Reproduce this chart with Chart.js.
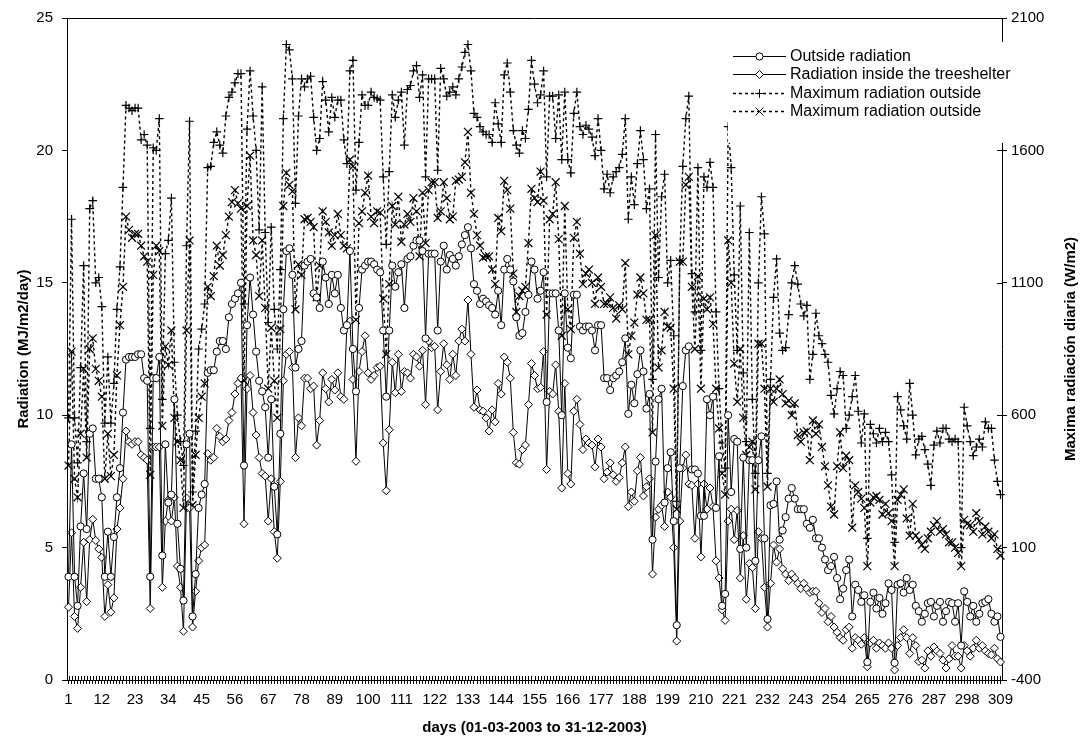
<!DOCTYPE html>
<html><head><meta charset="utf-8">
<script src="https://cdn.jsdelivr.net/npm/chart.js@4.4.0/dist/chart.umd.min.js"></script>
<style>html,body{margin:0;padding:0;background:#fff}#wrap{width:1082px;height:740px;position:relative}</style>
</head><body><div id="wrap"><canvas id="c" width="1082" height="740" style="width:1082px;height:740px"></canvas></div>
<script>
// Outside radiation (MJ/m2/day), left axis
const outsideRadiation = [
3.9,8.9,3.9,2.8,5.8,7.8,5.7,9.3,9.5,7.6,
7.6,6.9,3.9,5.6,3.9,5.4,6.9,8.0,10.1,12.1,
12.2,12.2,12.2,12.3,12.3,11.4,11.3,3.9,11.4,11.4,
12.2,4.7,8.9,6.7,7.0,10.6,5.9,4.2,3.0,8.9,
9.3,2.4,4.0,6.5,7.0,7.4,11.6,11.7,11.7,12.4,
12.8,12.8,12.5,13.7,14.2,14.4,14.6,15.0,8.1,13.4,
15.2,13.8,12.4,11.3,10.9,10.3,8.4,10.6,7.3,
5.5,9.3,14.0,16.2,16.3,15.3,11.8,12.5,12.8,15.65,
15.8,15.9,14.6,14.45,14.05,15.8,15.2,14.2,15.3,14.6,
15.3,14.05,13.2,13.4,16.2,12.5,10.9,14.05,15.5,15.65,
15.8,15.8,15.7,15.5,15.4,13.2,10.7,13.2,15.65,14.85,
15.4,15.7,14.05,15.9,16.0,16.4,16.6,16.6,16.2,12.9,
16.1,16.1,16.1,13.2,15.8,16.4,15.5,16.05,15.9,15.65,
16.0,16.45,16.8,17.1,16.3,14.95,14.7,14.2,14.4,14.3,
14.15,14.05,13.8,14.7,13.4,15.5,15.9,15.5,15.05,13.7,
13.0,13.1,13.9,14.55,15.8,15.5,14.4,14.7,15.4,
10.5,14.6,14.6,14.6,13.2,10.0,14.6,12.55,12.15,14.55,
14.55,13.35,13.2,13.35,13.35,13.2,12.45,13.4,13.4,11.4,
11.4,10.95,11.4,11.5,11.65,12.0,12.9,10.05,11.15,10.45,
11.55,12.45,11.65,10.25,10.8,5.3,8.25,10.6,11.0,6.7,
8.0,8.6,6.0,2.07,8.0,11.1,12.45,12.6,7.95,7.95,
7.8,6.2,6.2,10.6,10.0,10.7,6.5,8.45,2.8,3.25,
10.0,7.1,9.1,9.0,4.95,8.4,5.0,8.3,8.3,4.5,
8.3,9.2,5.35,2.3,6.6,6.65,7.5,5.3,5.65,6.15,
6.85,7.25,6.85,6.45,6.45,6.45,5.9,5.75,6.05,
5.35,5.35,5.0,4.55,4.15,4.3,4.65,3.85,3.05,3.45,
4.15,4.55,2.4,3.6,3.4,2.95,3.2,0.68,2.95,3.3,
2.7,3.1,2.5,2.9,3.65,3.4,0.65,3.6,3.65,3.3,
3.85,3.4,3.6,2.8,2.6,2.2,2.5,2.9,2.95,2.4,
2.8,2.95,2.2,2.6,2.95,2.9,2.2,2.9,1.3,3.35,
2.95,2.4,2.8,2.2,2.5,2.9,2.95,3.05,2.5,2.2,2.4,1.63
];
// Radiation inside the treeshelter (MJ/m2/day), left axis
const insideRadiation = [
2.75,5.56,2.4,1.95,3.5,5.2,2.96,5.3,6.07,5.27,
4.95,4.63,2.4,3.6,2.56,3.1,5.7,6.5,7.6,9.4,
9.0,8.9,9.0,9.0,8.5,8.4,8.3,2.7,8.8,8.8,
8.8,3.5,6.0,6.8,6.0,6.9,4.3,3.5,1.84,6.87,
6.5,2.0,3.35,4.5,5.0,5.1,8.55,8.3,8.4,9.5,
9.2,9.0,9.1,9.8,10.1,10.8,11.2,11.4,5.9,11.0,
11.5,10.1,9.25,8.4,7.8,7.7,6.0,7.6,5.6,
4.6,7.5,11.3,12.3,12.4,11.8,8.4,9.9,9.6,11.4,
11.4,11.0,11.1,8.87,9.8,11.6,11.0,10.5,11.35,10.95,
11.6,10.7,10.6,13.4,13.55,11.35,8.26,11.65,12.4,13.0,
11.6,11.35,11.5,11.8,11.85,8.95,7.15,9.45,12.0,10.85,
12.3,10.9,11.65,11.6,11.4,12.3,12.2,11.85,12.45,10.4,
12.8,12.55,12.6,10.2,11.65,12.7,11.9,11.35,12.3,11.5,
12.8,13.25,12.8,14.35,12.3,10.3,10.95,10.2,10.15,9.9,
9.4,10.2,9.75,11.2,10.8,12.2,12.0,11.4,9.35,8.2,
8.15,8.7,8.87,10.4,11.95,11.5,11.0,11.05,12.4,
7.95,10.9,10.8,11.9,10.15,7.25,11.2,7.8,7.4,10.15,
10.6,9.65,8.7,9.1,8.95,8.87,8.05,9.1,8.8,7.6,
7.85,8.2,7.75,7.5,7.65,8.2,8.8,6.55,7.1,6.75,
7.9,8.4,6.95,7.3,7.6,4.0,6.15,6.45,6.6,5.8,
7.1,6.9,5.0,1.47,6.0,8.0,8.5,7.4,7.35,5.35,
7.4,4.65,7.4,6.45,7.25,6.55,4.5,3.85,2.65,2.25,
6.0,6.45,5.3,6.4,3.85,5.45,3.05,4.4,4.25,2.7,
5.6,5.35,3.5,2.0,3.65,5.1,4.45,4.95,4.2,4.0,
3.75,4.0,3.85,3.65,3.45,3.65,3.45,3.3,3.35,
3.35,2.9,2.55,2.7,2.2,2.4,2.0,1.8,1.6,1.5,
1.9,2.0,1.2,1.6,1.5,1.35,1.6,0.5,1.4,1.5,
1.2,1.4,1.3,1.2,1.4,1.2,0.38,1.3,1.6,1.9,
1.6,1.0,1.6,1.3,0.7,0.75,0.45,1.1,0.9,1.25,
1.1,1.0,0.75,0.45,0.8,1.3,0.9,0.9,0.45,1.3,
1.1,0.9,1.2,1.5,1.2,1.3,1.1,1.0,0.95,1.2,0.8,0.68
];
// Maximum radiation outside, "+" series (W/m2), right axis
const maxRadiationPlus = [
590,1340,590,420,780,1165,500,1380,1410,1100,
1120,1010,570,820,570,720,1000,1160,1460,1770,
1760,1750,1760,1760,1640,1660,1620,550,1610,1600,
1720,660,1210,1260,1420,800,600,500,410,1240,
1710,310,540,850,925,1020,1535,1540,1630,1670,
1620,1590,1730,1800,1820,1855,1890,1890,1020,1680,
1900,1730,1600,1300,1840,1290,950,1310,1000,
850,1150,1720,2000,1980,1870,1400,1730,1870,1840,
1870,1880,1725,1600,1645,1860,1790,1670,1800,1725,
1790,1790,1640,1550,1900,1940,1450,1630,1810,1770,
1770,1820,1800,1795,1790,1500,1245,1520,1810,1725,
1790,1820,1620,1830,1845,1900,1920,1800,1885,1500,
1870,1870,1870,1525,1910,1870,1805,1820,1840,1810,
1870,1915,1970,2000,1900,1740,1725,1690,1670,1660,
1660,1630,1780,1700,1630,1885,1930,1820,1675,1620,
1590,1675,1645,1755,1940,1850,1780,1810,1900,
1500,1805,1805,1645,1810,1565,1820,1565,1515,1740,
1820,1690,1660,1695,1680,1650,1580,1720,1600,1455,
1510,1440,1500,1520,1535,1585,1720,1340,1500,1395,
1550,1675,1565,1380,1455,735,1660,1120,1425,1510,
1100,1185,900,275,1185,1540,1720,1805,1135,990,
1535,845,1500,1460,1555,1460,990,700,495,400,
1690,1535,1130,845,1390,760,500,1290,660,380,
1100,1425,1285,380,735,1045,1190,910,845,855,
980,1100,1165,1095,1020,975,1015,735,830,
985,900,870,830,800,675,605,700,765,750,
550,600,670,750,615,495,605,135,565,530,
495,550,500,535,500,375,120,670,620,560,
510,720,600,450,510,520,470,415,335,487,
540,495,550,550,510,500,510,500,100,630,
560,500,447,480,510,480,575,550,550,430,350,300
];
// Maximum radiation outside, "x" series (W/m2), right axis
const maxRadiationCross = [
410,840,360,290,530,775,440,850,890,775,
730,670,360,530,370,450,750,940,1085,1350,
1300,1270,1285,1285,1240,1200,1180,375,1130,1240,
1220,560,860,790,920,590,500,430,250,920,
1260,260,450,590,670,720,1085,1050,1125,1240,
1165,1205,1280,1350,1405,1450,1400,1380,730,1390,
1580,1260,1205,1050,1260,1005,700,930,730,
590,925,1390,1515,1470,1445,1000,1170,1130,1340,
1345,1330,1310,1045,1165,1370,1330,1290,1240,1280,
1360,1280,1240,1230,1565,1540,960,1325,1370,1440,
1505,1350,1325,1370,1365,1040,830,1095,1390,1320,
1425,1255,1320,1360,1330,1420,1370,1200,1440,1250,
1450,1480,1480,1345,1370,1480,1420,1340,1350,1485,
1490,1500,1555,1670,1440,1360,1280,1240,1195,1200,
1200,1150,1095,1345,1295,1485,1450,1380,1135,990,
1050,1070,1085,1250,1455,1420,1405,1520,1410,
980,1340,1360,1480,1265,900,1390,1000,925,1270,
1330,1210,1095,1135,1150,1100,1020,1120,1085,1020,
1020,1045,1005,965,1015,1000,1175,830,900,950,
1055,1120,1060,960,960,535,1280,780,845,990,
935,930,700,245,1180,1180,1470,1500,1085,850,
1125,700,1040,1000,1045,945,700,550,380,300,
1260,1100,795,650,850,590,450,480,500,320,
870,870,700,330,700,650,700,735,680,645,
655,600,645,525,500,535,540,430,580,
530,565,480,407,335,255,225,407,535,400,
447,430,175,335,310,285,250,30,270,290,
295,280,225,265,230,200,30,280,300,320,
210,145,265,145,130,110,95,135,160,185,
200,160,170,150,120,120,100,80,30,205,
190,185,160,230,200,150,180,160,135,150,95,70
];
// Category labels: day numbers; a label is shown every 11 days
const dayLabels = outsideRadiation.map((_, i) => String(i + 1));
const labelStep = 11;
const leftTicks = [0, 5, 10, 15, 20, 25];
const rightTicks = [-400, 100, 600, 1100, 1600, 2100];
const seriesNames = ['Outside radiation', 'Radiation inside the treeshelter', 'Maximum radiation outside', 'Maximum radiation outside'];

const FONT = "'Liberation Sans', Arial, Helvetica, sans-serif";

function drawMarker(ctx, style, r, x, y) {
  ctx.beginPath();
  if (style === 'circle') {
    ctx.arc(x, y, r, 0, Math.PI * 2);
    ctx.fill(); ctx.stroke();
  } else if (style === 'rectRot') {
    ctx.moveTo(x, y - r); ctx.lineTo(x + r, y); ctx.lineTo(x, y + r); ctx.lineTo(x - r, y); ctx.closePath();
    ctx.fill(); ctx.stroke();
  } else if (style === 'cross') {
    ctx.moveTo(x - r, y); ctx.lineTo(x + r, y); ctx.moveTo(x, y - r); ctx.lineTo(x, y + r);
    ctx.stroke();
  } else if (style === 'crossRot') {
    const d = r * Math.SQRT1_2;
    ctx.moveTo(x - d, y - d); ctx.lineTo(x + d, y + d); ctx.moveTo(x + d, y - d); ctx.lineTo(x - d, y + d);
    ctx.stroke();
  }
}

const decorPlugin = {
  id: 'decor',
  afterDraw(chart) {
    const ctx = chart.ctx, ca = chart.chartArea;
    ctx.save();
    ctx.strokeStyle = '#000'; ctx.lineWidth = 1; ctx.setLineDash([]);
    ctx.beginPath();
    const xs = chart.scales.x;
    xs.ticks.forEach((t, i) => {
      const px = Math.round(xs.getPixelForTick(i)) + 0.5;
      ctx.moveTo(px, ca.bottom); ctx.lineTo(px, ca.bottom - 4);
    });
    const y1 = chart.scales.y1;
    y1.ticks.forEach((t, i) => {
      const py = Math.round(y1.getPixelForTick(i)) + 0.5;
      ctx.moveTo(ca.right, py); ctx.lineTo(ca.right - 5, py);
    });
    const ty = Math.round(ca.top) + 0.5;
    ctx.moveTo(ca.left, ty); ctx.lineTo(ca.right, ty);
    ctx.stroke();

    // right axis title (reads bottom to top)
    ctx.save();
    ctx.translate(1071, (ca.top + ca.bottom) / 2);
    ctx.rotate(-Math.PI / 2);
    ctx.fillStyle = '#000';
    ctx.font = 'bold 15px ' + FONT;
    ctx.textAlign = 'center'; ctx.textBaseline = 'middle';
    ctx.fillText('Maxima radiación diaria (W/m2)', 0, 0);
    ctx.restore();

    // legend
    ctx.fillStyle = '#fff';
    ctx.fillRect(728, 42, 296, 101);
    chart.data.datasets.forEach((ds, i) => {
      const y = 56 + i * 18.3;
      const yl = Math.round(y) + 0.5;
      ctx.strokeStyle = '#000';
      ctx.lineWidth = ds.borderWidth;
      ctx.setLineDash(ds.borderDash || []);
      ctx.beginPath(); ctx.moveTo(733, yl); ctx.lineTo(786, yl); ctx.stroke();
      ctx.setLineDash([]);
      ctx.lineWidth = 1; ctx.fillStyle = '#fff';
      drawMarker(ctx, ds.pointStyle, ds.pointRadius, 759.5, yl);
      ctx.fillStyle = '#000';
      ctx.font = '16px ' + FONT;
      ctx.textAlign = 'left'; ctx.textBaseline = 'middle';
      ctx.fillText(ds.label, 790, y + 0.5);
    });
    ctx.restore();
  }
};

const tickFont = { family: FONT, size: 15 };
const titleFont = { family: FONT, size: 15, weight: 'bold' };

new Chart(document.getElementById('c').getContext('2d'), {
  type: 'line',
  data: {
    labels: dayLabels,
    datasets: [
      { label: seriesNames[0], data: outsideRadiation, yAxisID: 'y', borderColor: '#000', borderWidth: 1,
        pointStyle: 'circle', pointRadius: 3.6, pointBackgroundColor: '#fff', pointBorderColor: '#000', pointBorderWidth: 1, tension: 0, fill: false },
      { label: seriesNames[1], data: insideRadiation, yAxisID: 'y', borderColor: '#000', borderWidth: 1,
        pointStyle: 'rectRot', pointRadius: 4, pointBackgroundColor: '#fff', pointBorderColor: '#000', pointBorderWidth: 1, tension: 0, fill: false },
      { label: seriesNames[2], data: maxRadiationPlus, yAxisID: 'y1', borderColor: '#000', borderWidth: 1.4, borderDash: [3, 3],
        pointStyle: 'cross', pointRadius: 4.3, pointBackgroundColor: '#fff', pointBorderColor: '#000', pointBorderWidth: 1.2, tension: 0, fill: false },
      { label: seriesNames[3], data: maxRadiationCross, yAxisID: 'y1', borderColor: '#000', borderWidth: 1.4, borderDash: [3, 3],
        pointStyle: 'crossRot', pointRadius: 5.6, pointBackgroundColor: '#fff', pointBorderColor: '#000', pointBorderWidth: 1.2, tension: 0, fill: false }
    ]
  },
  options: {
    responsive: false, animation: false, devicePixelRatio: 1,
    layout: { padding: { top: 13, left: 0, right: 0, bottom: 0 } },
    plugins: { legend: { display: false }, tooltip: { enabled: false } },
    elements: { point: { hitRadius: 0 } },
    scales: {
      x: {
        type: 'category', offset: true,
        grid: { display: true, drawOnChartArea: false, drawTicks: true, tickLength: 4, color: '#000', lineWidth: 1 },
        border: { display: true, color: '#000', width: 1 },
        ticks: { autoSkip: false, maxRotation: 0, minRotation: 0, color: '#000', font: tickFont, padding: 7,
          callback: (v, i) => (i % labelStep === 0 ? dayLabels[i] : '') },
        title: { display: true, text: 'days (01-03-2003 to 31-12-2003)', color: '#000', font: titleFont, padding: { top: 0, bottom: 3 } },
        afterFit: s => { s.height = 60; }
      },
      y: {
        position: 'left', min: 0, max: 25,
        afterBuildTicks: s => { s.ticks = leftTicks.map(v => ({ value: v })); },
        grid: { display: true, drawOnChartArea: false, drawTicks: true, tickLength: 5, color: '#000' },
        border: { display: true, color: '#000', width: 1 },
        ticks: { color: '#000', font: tickFont, padding: 9, callback: v => String(v) },
        title: { display: true, text: 'Radiation (MJ/m2/day)', color: '#000', font: titleFont, padding: { top: 15, bottom: 0 } },
        afterFit: s => { s.width = 67; }
      },
      y1: {
        position: 'right', min: -400, max: 2100,
        afterBuildTicks: s => { s.ticks = rightTicks.map(v => ({ value: v })); },
        grid: { display: true, drawOnChartArea: false, drawTicks: true, tickLength: 5, color: '#000' },
        border: { display: true, color: '#000', width: 1 },
        ticks: { color: '#000', font: tickFont, padding: 4, callback: v => String(v) },
        title: { display: false },
        afterFit: s => { s.width = 80; }
      }
    }
  },
  plugins: [decorPlugin]
});
</script>
</body></html>
